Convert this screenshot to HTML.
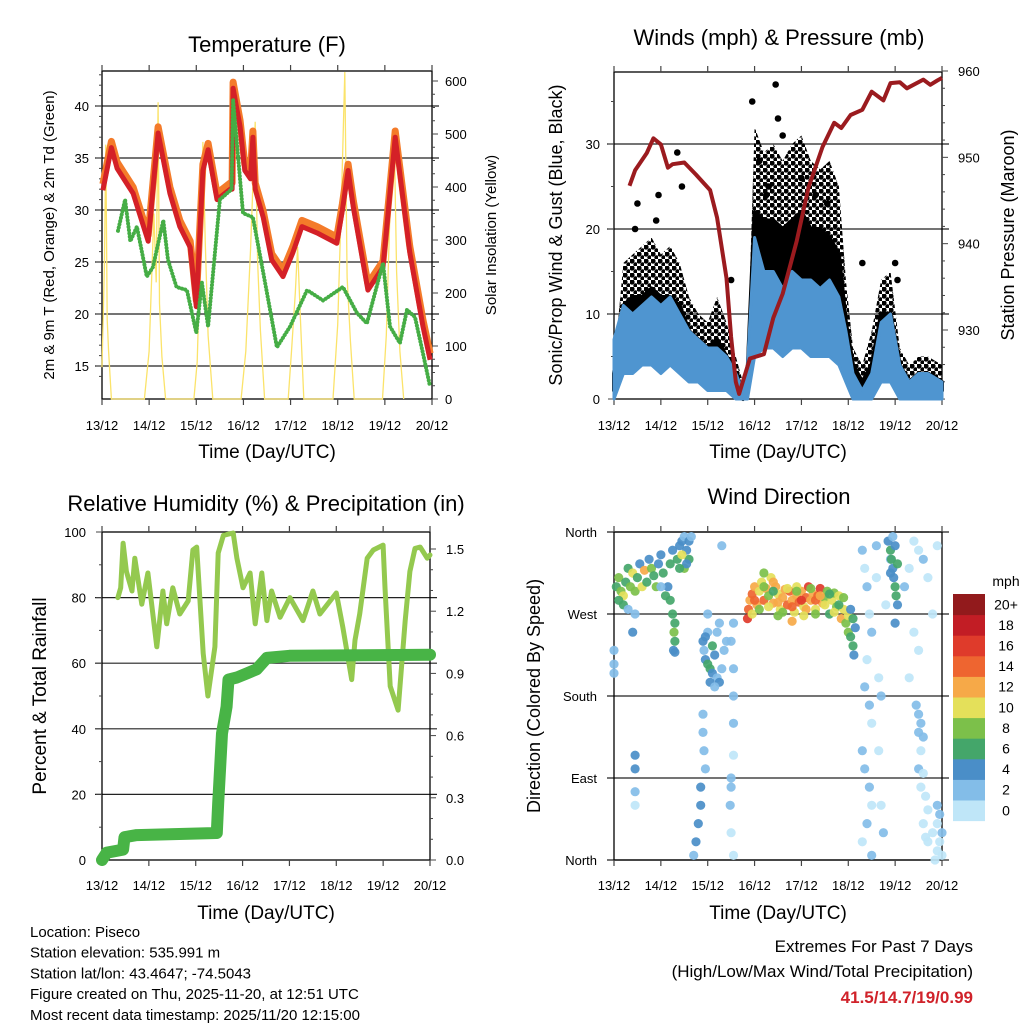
<!DOCTYPE html>
<html><head><meta charset="utf-8"><style>
html,body{margin:0;padding:0;background:#fff;}
svg{display:block;font-family:"Liberation Sans",Arial,sans-serif;}
</style></head><body>
<svg id="fig" width="1024" height="1024" viewBox="0 0 1024 1024" xmlns="http://www.w3.org/2000/svg">
<defs>
<pattern id="dotpat" width="7" height="7" patternUnits="userSpaceOnUse"><circle cx="2" cy="2" r="2.6" fill="#000"/><circle cx="5.5" cy="5.5" r="2.2" fill="#000"/></pattern>
</defs>
</svg>
<script>
// ---------- DATA ----------
const dayLabels = ["13/12","14/12","15/12","16/12","17/12","18/12","19/12","20/12"];
// Temperature panel
const tempTicks = [15,20,25,30,35,40];
const solarTicks = [0,100,200,300,400,500,600];
const redT = [0.02,0.2,0.32,0.66,0.98,1.19,1.44,1.65,1.87,2.0,2.14,2.25,2.44,2.72,2.76,2.78,2.93,3.03,3.15,3.2,3.25,3.42,3.6,3.84,4.05,4.24,4.56,4.98,5.1,5.22,5.33,5.64,5.96,6.22,6.53,6.81,6.96];
const redV = [31.9,36,34,31.6,27,37.4,31.6,28.4,26.4,20.7,33.8,35.8,31,32,32,41.7,38,33.8,33,37,32,29.3,25.2,23.6,25.9,28.4,27.8,26.8,30,33.8,30.3,22.3,24.5,37,25.9,18.8,15.6];
const dewT = [0.34,0.49,0.6,0.74,0.95,1.08,1.3,1.4,1.58,1.8,2.0,2.12,2.25,2.5,2.75,2.78,2.99,3.2,3.42,3.71,3.99,4.35,4.69,5.11,5.41,5.62,5.96,6.11,6.32,6.47,6.64,6.81,6.96];
const dewV = [28,31,27,28.4,23.6,24.5,29,25.2,22.6,22.3,18.2,23,18.8,31,32,40.6,29.7,29.3,24,16.8,18.8,22.3,21.3,22.6,20.1,19.1,24.9,18.8,17.2,20.4,19.7,16.2,13];
const solarT = [0,0.05,0.08,0.11,0.14,0.2,0.9,1.0,1.1,1.15,1.19,1.22,1.27,1.35,1.95,2.02,2.08,2.14,2.19,2.25,2.35,2.95,3.05,3.15,3.25,3.3,3.36,3.45,3.95,4.02,4.1,4.15,4.2,4.28,4.9,5.0,5.08,5.15,5.2,5.27,5.35,5.95,6.03,6.1,6.2,6.25,6.32,6.4];
const solarV = [60,250,480,150,90,0,0,90,350,220,560,180,80,0,0,70,260,485,300,120,0,0,90,280,523,260,130,0,0,90,200,287,170,0,0,140,380,617,230,110,0,0,120,330,489,240,90,0];
// Winds panel
const windTicks = [0,10,20,30];
const presTicks = [930,940,950,960];
const windT = [0,0.2,0.4,0.6,0.8,1.0,1.2,1.4,1.6,1.8,2.0,2.2,2.4,2.6,2.75,2.85,3.0,3.2,3.4,3.6,3.8,4.0,4.2,4.4,4.6,4.8,4.95,5.1,5.3,5.5,5.7,5.9,6.1,6.3,6.5,6.7,7.0];
const sustLo = [0,3,3,4,4,3,4,3,2,2,1,1,1,0,0,0,5,6,6,5,6,6,5,5,5,4,2,0,0,0,2,2,0,0,0,0,0];
const sustHi = [7,11,10,11,12,11,12,10,8,7,6,6,5,3,1,4,19,15,15,13,15,14,14,13,14,12,8,3,1,3,9,10,4,2,3,3,2];
const gustLo = [1,6,6,7,8,6,7,6,4,4,3,3,2,1,0,1,12,13,13,12,13,14,12,12,11,10,5,2,1,2,5,5,2,1,1,1,1];
const gustMid = [3,11,12,12,13,12,12,11,8,7,6,7,5,3,1,3,22,21,21,20,21,22,20,20,19,17,9,4,2,4,10,10,4,2,3,3,2];
const gustHi = [4,16,17,18,19,17,18,16,12,10,9,12,9,5,2,5,32,29,30,28,30,31,28,27,28,25,14,6,4,8,14,15,6,4,5,5,4];
const gustXT = [0.45,0.5,0.9,0.95,1.35,1.45,2.5,2.95,3.1,3.3,3.45,3.5,3.6,3.25,4.0,4.3,4.55,5.3,6.0,6.05];
const gustXV = [20,23,21,24,29,25,14,35,28,25,37,33,31,24,26,24,23,16,16,14];
const presT = [0.33,0.45,0.7,0.84,1.0,1.15,1.25,1.5,1.75,2.05,2.2,2.4,2.5,2.6,2.67,2.9,3.2,3.4,3.6,3.9,4.15,4.45,4.7,4.85,5.05,5.3,5.5,5.75,5.9,6.1,6.25,6.6,6.75,6.9,7.0];
const presV = [946.7,948.5,950.5,952.2,951.5,948.8,949.2,949.4,948,946.2,943,936,929.2,924,922.6,926.7,927.2,931.4,934.2,940.3,946.5,951.2,954,953.4,954.9,955.5,957.6,956.6,958.6,958.7,958,959,958.4,958.9,959.2];
// RH / precip panel
const rhTicks = [0,20,40,60,80,100];
const rainTicks = [0.0,0.3,0.6,0.9,1.2,1.5];
const rhT = [0.34,0.4,0.45,0.52,0.64,0.7,0.85,0.98,1.17,1.3,1.38,1.51,1.66,1.84,1.94,2.02,2.16,2.26,2.41,2.48,2.59,2.8,2.88,3.01,3.16,3.27,3.41,3.52,3.62,3.8,4.01,4.29,4.5,4.65,5.0,5.14,5.33,5.4,5.5,5.66,5.79,6.0,6.04,6.15,6.32,6.47,6.57,6.68,6.79,6.94,7.0];
const rhV = [80,83,96.6,88,82,92,78,87.5,65,82,72,83,75,79,94.5,95.4,63,50,65,93.6,99,99.7,92,83,87.5,72,87.5,73,82,74,80,73,82,75,81.4,71,55,67,75,92,94.5,96,83,53,45.7,73,88,95,95.4,92,93];
const rainT = [0,0.1,0.45,0.48,0.74,2.45,2.48,2.56,2.66,2.7,2.88,3.09,3.3,3.52,4.0,7.0];
const rainV = [0,0.035,0.05,0.11,0.12,0.13,0.275,0.61,0.74,0.87,0.88,0.9,0.92,0.975,0.985,0.99];
// Wind direction panel
const dirTicks = [360,270,180,90,0];
const dirLabels = ["North","West","South","East","North"];
const cbarLabels = ["0","2","4","6","8","10","12","14","16","18","20+"];
const cbarColors = ["#bfe6f8","#83bde8","#4a8ec8","#44a66a","#7cc04a","#e4e05a","#f6a948","#ee6530","#df3b2b","#c21d25","#921a1c"];
const dirT = [0.05,0.1,0.15,0.2,0.25,0.3,0.35,0.4,0.45,0.5,0.55,0.6,0.65,0.7,0.75,0.8,0.85,0.9,0.95,1.0,1.05,1.1,1.15,1.2,1.25,1.3,1.28,1.3,1.27,1.3,1.2,1.25,1.35,1.4,1.45,1.5,1.55,1.6,1.5,1.45,1.6,1.65,1.55,1.4,0.1,0.2,0.3,0.0,0.0,0.0,0.4,0.45,0.45,0.45,0.45,0.45,
1.9,1.92,1.95,2.0,2.05,2.1,2.15,2.2,2.25,2.3,2.35,2.4,2.0,2.1,2.05,2.15,1.95,2.2,2.25,1.9,1.9,1.92,1.95,1.85,1.85,1.8,1.75,1.7,2.55,2.5,2.55,2.55,2.55,2.55,2.5,2.5,2.48,2.5,2.55,2.3,2.0,1.0,
2.85,2.87,2.9,2.95,3.0,3.05,3.1,3.15,3.2,3.25,3.3,3.35,3.4,3.45,3.5,3.55,3.6,3.65,3.7,3.75,3.8,3.85,3.9,3.95,4.0,4.05,4.1,4.15,4.2,4.25,4.3,4.35,4.4,4.45,4.5,4.55,4.6,4.65,4.7,4.75,4.8,4.85,4.9,4.95,5.0,5.05,5.1,5.12,5.15,
2.95,3.0,3.1,3.2,3.3,3.4,3.5,3.6,3.7,3.8,3.9,4.0,4.1,4.2,4.3,4.4,4.5,4.6,4.7,4.8,4.9,5.0,5.05,5.1,3.4,3.9,3.2,3.8,4.05,4.3,3.5,
5.3,5.35,5.4,5.45,5.5,5.4,5.35,5.45,5.5,5.3,5.35,5.45,5.5,5.4,5.3,5.5,5.6,5.6,5.65,5.7,5.65,5.7,5.75,5.8,5.9,
5.85,5.9,5.92,5.95,5.97,6.0,6.02,6.05,6.0,5.95,6.05,6.0,5.9,
6.2,6.3,6.4,6.5,6.6,6.7,6.8,6.9,6.4,6.5,6.3,6.45,6.5,6.55,6.5,6.6,6.55,6.5,6.6,6.55,6.65,6.7,6.6,6.65,6.9,6.95,6.9,7.0,6.95,6.9,7.0,6.85,6.8,6.7];
const dirD = [300,310,295,290,305,320,300,315,295,310,325,300,318,305,330,320,312,300,325,335,315,290,300,285,270,260,250,240,230,228,325,340,330,345,350,355,340,330,320,335,350,355,325,320,285,280,275,215,205,230,250,270,115,100,75,60,
240,230,220,215,210,205,225,200,195,210,230,240,250,235,195,190,245,250,260,160,140,120,100,80,60,40,20,5,260,240,210,180,150,115,90,80,60,30,5,345,270,300,
265,275,285,292,300,280,295,305,285,298,290,310,282,300,292,275,288,297,280,295,285,272,290,283,295,278,288,300,285,292,275,290,298,282,288,295,270,285,293,278,290,265,275,260,250,245,235,225,255,
270,285,275,300,278,295,283,272,298,278,300,285,275,298,285,290,280,292,272,280,288,268,275,265,305,295,315,262,268,270,268,
340,320,300,270,250,220,190,170,150,120,100,80,60,40,20,5,345,310,200,180,120,60,30,280,330,
350,340,330,320,310,300,290,280,345,355,325,260,315,
300,320,350,340,330,310,270,345,250,230,200,170,160,150,140,135,120,100,95,80,70,55,40,25,60,50,40,30,20,10,5,0,30,20];
const dirS = [6,8,9,10,7,6,9,11,8,7,5,10,12,6,4,8,7,9,5,4,6,7,5,7,6,7,8,6,4,5,6,5,7,5,4,3,5,7,9,11,4,3,4,6,6,7,3,3,3,2,4,3,4,4,2,1,
4,3,5,6,7,5,4,3,4,2,2,2,3,7,4,3,4,2,3,2,2,2,3,4,4,5,4,3,3,2,2,2,2,1,3,2,2,1,1,2,2,3,
17,15,13,14,12,13,10,11,14,12,9,10,13,12,11,10,13,12,14,15,12,11,13,15,12,11,14,16,13,12,10,14,17,12,9,8,7,10,9,8,11,12,10,9,8,7,6,4,5,
11,14,9,8,11,7,13,9,10,14,10,16,12,9,15,13,10,6,11,6,8,10,5,7,12,8,9,12,10,8,9,
2,1,2,1,2,1,3,2,1,3,3,2,1,2,1,3,2,1,1,2,1,1,2,1,2,
5,6,7,5,4,6,7,5,4,3,6,5,4,
2,1,1,1,3,1,1,1,1,1,1,3,3,3,3,2,1,2,1,1,1,1,1,1,2,3,1,3,1,1,1,1,1,1];

// ---------- HELPERS ----------
const NS="http://www.w3.org/2000/svg";
const svg=document.getElementById('fig');
function mk(tag,attrs,parent){const e=document.createElementNS(NS,tag);for(const k in attrs)e.setAttribute(k,attrs[k]);(parent||svg).appendChild(e);return e;}
function txt(s,x,y,size,anchor,parent,extra){const e=mk('text',Object.assign({x:x,y:y,'font-size':size,'text-anchor':anchor||'start',fill:'#000'},extra||{}),parent);e.textContent=s;return e;}
function lin(x1,y1,x2,y2,parent,sw,col){return mk('line',{x1:x1,y1:y1,x2:x2,y2:y2,stroke:col||'#000','stroke-width':sw||1},parent);}
function pathFrom(xs,ys){let d='';for(let i=0;i<xs.length;i++)d+=(i?'L':'M')+xs[i].toFixed(1)+' '+ys[i].toFixed(1);return d;}
function scale(d0,d1,r0,r1){return v=>r0+(v-d0)/(d1-d0)*(r1-r0);}

function frame(g,L,T,R,B,grid,yfn){
  grid.forEach(v=>{lin(L-7,yfn(v),R+7,yfn(v),g,1.2,'#222');});
  mk('rect',{x:L,y:T,width:R-L,height:B-T,fill:'none',stroke:'#000','stroke-width':1.3},g);
  const xs=scale(0,7,L,R);
  for(let i=0;i<=7;i++){lin(xs(i),B,xs(i),B+6,g,1.2,'#444');lin(xs(i),T,xs(i),T-6,g,1.2,'#444');}
}
function xLabels(g,L,R,yb,titleY){
  const xs=scale(0,7,L,R);
  dayLabels.forEach((s,i)=>{const t=txt(s,xs(i),yb,13,'middle',g);
    
    });
  const tt=txt('Time (Day/UTC)',(L+R)/2,titleY,19,'middle',g);
  
  
}

// ---------- PANEL 1: TEMPERATURE ----------
(function(){
const g=mk('g',{});


const L=102,R=432,T=71,B=399;
const x=scale(0,7,L,R), y=scale(15,40,366,106), ys=scale(0,600,399,81);
frame(g,L,T,R,B,tempTicks,y);
for(let v=14;v<=43;v++){lin(L,y(v),L-(v%5?3:6),y(v),g,1,'#444');}
for(let v=0;v<=620;v+=25){lin(R,ys(v),R+(v%100?3:6),ys(v),g,1,'#444');}
const sol=mk('path',{d:pathFrom(solarT.map(x),solarV.map(ys)),fill:'none',stroke:'#fbe36a','stroke-width':1.3},g);


const org=mk('path',{d:pathFrom(redT.map(x),redV.map(v=>y(v+0.6))),fill:'none',stroke:'#f47b2a','stroke-width':7,'stroke-linejoin':'round'},g);


const red=mk('path',{d:pathFrom(redT.map(x),redV.map(y)),fill:'none',stroke:'#d42027','stroke-width':5,'stroke-linejoin':'round'},g);


const dew=mk('path',{d:pathFrom(dewT.map(x),dewV.map(y)),fill:'none',stroke:'#45ad45','stroke-width':4,'stroke-dasharray':'0.1 3.2','stroke-linecap':'round','stroke-linejoin':'round'},g);


tempTicks.forEach(v=>{const t=txt(String(v),89,y(v)+5,13,'end',g);
  
  });
solarTicks.forEach(v=>{const t=txt(String(v),445,ys(v)+5,13,'start',g);
  
  });
xLabels(g,L,R,430,458);
const ti=txt('Temperature (F)',267,52,22,'middle',g);


const yl=txt('2m & 9m T (Red, Orange) & 2m Td (Green)',0,0,15,'middle',g,{transform:'translate(54,235) rotate(-90)'});


const yr=txt('Solar Insolation (Yellow)',0,0,15,'middle',g,{transform:'translate(496,235) rotate(-90)'});


})();

// ---------- PANEL 2: WINDS ----------
(function(){
const g=mk('g',{});


const L=614,R=942,T=72,B=399;
const x=scale(0,7,L,R), y=scale(0,30,399,144), yp=scale(930,960,330,71);
frame(g,L,T,R,B,[10,20,30],y);
for(let v=0;v<=38;v+=5){lin(L,y(v),L-(v%10?3:6),y(v),g,1,'#444');}
for(let v=922;v<=960;v+=2){lin(R,yp(v),R+(v%10?3:6),yp(v),g,1,'#444');}
const xs=windT.map(x), xr=windT.map(x).reverse();
const gustTop=mk('path',{d:pathFrom(xs.concat(xr),gustHi.map(y).concat(gustMid.map(y).reverse()))+'Z',fill:'url(#dotpat)',stroke:'none'},g);


const gust=mk('path',{d:pathFrom(xs.concat(xr),gustMid.map(y).concat(gustLo.map(y).reverse()))+'Z',fill:'#000',stroke:'#000','stroke-width':4,'stroke-linejoin':'round'},g);


gustXT.forEach((t,i)=>{const c=mk('circle',{cx:x(t),cy:y(gustXV[i]),r:3.3,fill:'#000'},g);
  
  });
const sus=mk('path',{d:pathFrom(xs.concat(xr),sustHi.map(y).concat(sustLo.map(y).reverse()))+'Z',fill:'#4f95d0',stroke:'#4f95d0','stroke-width':3,'stroke-linejoin':'round'},g);


const pr=mk('path',{d:pathFrom(presT.map(x),presV.map(yp)),fill:'none',stroke:'#9b1b1f','stroke-width':4,'stroke-linejoin':'round'},g);


windTicks.forEach(v=>{const t=txt(String(v),600,y(v)+5,13,'end',g);
  
  });
presTicks.forEach(v=>{const t=txt(String(v),958,yp(v)+5,13,'start',g);
  
  });
xLabels(g,L,R,430,458);
const ti=txt('Winds (mph) & Pressure (mb)',779,45,22,'middle',g);


const yl=txt('Sonic/Prop Wind & Gust (Blue, Black)',0,0,18,'middle',g,{transform:'translate(562,235) rotate(-90)'});


const yr=txt('Station Pressure (Maroon)',0,0,18,'middle',g,{transform:'translate(1014,235) rotate(-90)'});


})();

// ---------- PANEL 3: RH & PRECIP ----------
(function(){
const g=mk('g',{});


const L=102,R=430,T=532,B=860;
const x=scale(0,7,L,R), y=scale(0,100,860,532), yr=scale(0,1.5,860,549);
frame(g,L,T,R,B,[20,40,60,80],y);
for(let v=0;v<=100;v+=10){lin(L,y(v),L-(v%20?3:6),y(v),g,1,'#444');}
for(let v=0;v<=15;v++){lin(R,yr(v/10),R+(v%3?3:6),yr(v/10),g,1,'#444');}
const rh=mk('path',{d:pathFrom(rhT.map(x),rhV.map(y)),fill:'none',stroke:'#94c94f','stroke-width':5,'stroke-linejoin':'round','stroke-linecap':'round'},g);


const rn=mk('path',{d:pathFrom(rainT.map(x),rainV.map(yr)),fill:'none',stroke:'#48b446','stroke-width':12,'stroke-linejoin':'round','stroke-linecap':'round'},g);


rhTicks.forEach(v=>{const t=txt(String(v),86,y(v)+5,13,'end',g);
  
  });
rainTicks.forEach(v=>{const t=txt(v.toFixed(1),446,yr(v)+5,13,'start',g);
  
  });
xLabels(g,L,R,890,919);
const ti=txt('Relative Humidity (%) & Precipitation (in)',266,511,22,'middle',g);


const yl=txt('Percent & Total Rainfall',0,0,19,'middle',g,{transform:'translate(46,696) rotate(-90)'});


})();

// ---------- PANEL 4: WIND DIRECTION ----------
(function(){
const g=mk('g',{});


const L=614,R=942,T=532,B=860;
const x=scale(0,7,L,R), y=scale(360,0,532,860);
frame(g,L,T,R,B,[360,270,180,90,0],y);
dirT.forEach((t,i)=>{const k=Math.min(10,Math.floor(dirS[i]/2));
  const c=mk('circle',{cx:x(t).toFixed(1),cy:y(dirD[i]).toFixed(1),r:4.6,fill:cbarColors[k],'fill-opacity':0.92},g);
  
  });
dirTicks.forEach((v,i)=>{const t=txt(dirLabels[i],597,y(v)+5,13,'end',g);
  
  });
xLabels(g,L,R,890,919);
const ti=txt('Wind Direction',779,504,22,'middle',g);


const yl=txt('Direction (Colored By Speed)',0,0,18,'middle',g,{transform:'translate(540,696) rotate(-90)'});


const cb=mk('g',{},g);


const bh=20.6, top=594;
cbarColors.forEach((c,i)=>{const j=10-i;
  const r=mk('rect',{x:953,y:top+j*bh,width:32,height:bh+0.5,fill:c},cb);
  
  
  const t=txt(cbarLabels[i],1006,top+j*bh+bh/2+5,14,'middle',cb);
  
  });
const mph=txt('mph',1006,586,14,'middle',cb);


})();

// ---------- FOOTER TEXT ----------
const info=["Location: Piseco","Station elevation: 535.991 m","Station lat/lon: 43.4647; -74.5043","Figure created on Thu, 2025-11-20, at 12:51 UTC","Most recent data timestamp: 2025/11/20 12:15:00"];
info.forEach((s,i)=>{const t=txt(s,30,937+i*20.7,15,'start');
  
  });
const e1=txt('Extremes For Past 7 Days',973,952,17,'end');


const e2=txt('(High/Low/Max Wind/Total Precipitation)',973,977,17,'end');


const e3=txt('41.5/14.7/19/0.99',973,1003,17,'end',null,{fill:'#d0222a','font-weight':'bold'});


</script>
</body></html>
